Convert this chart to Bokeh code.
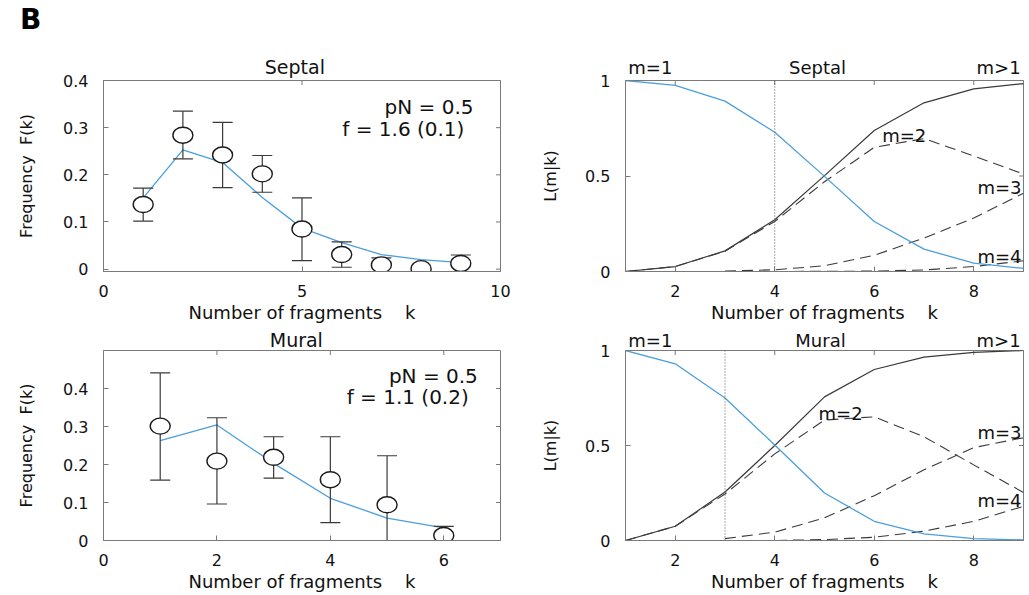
import math
from bokeh.plotting import figure
from bokeh.models import ColumnDataSource, Label, Span, FixedTicker, LinearAxis, Range1d, Div
from bokeh.layouts import column, row
from bokeh.embed import file_html
from bokeh.resources import INLINE

FONT = "DejaVu Sans"
AX = "#7a7a7a"
TXT = "#111111"
BLUE = "#4a9fdc"
DARK = "#3a3a3a"

# ---------------- data ----------------
# Left panels: observed fragment frequencies with error bars, and fitted model
sep_k = [1, 2, 3, 4, 5, 6, 7, 8, 9]
sep_obs = [0.137, 0.284, 0.242, 0.202, 0.085, 0.031, 0.009, 0.001, 0.012]
sep_hi = [0.172, 0.335, 0.311, 0.241, 0.151, 0.058, 0.024, 0.001, 0.030]
sep_lo = [0.102, 0.234, 0.173, 0.163, 0.018, 0.004, -0.006, 0.001, -0.006]
sep_fit = [0.151, 0.253, 0.226, 0.152, 0.087, 0.056, 0.031, 0.020, 0.014]

mur_k = [1, 2, 3, 4, 5, 6]
mur_obs = [0.301, 0.209, 0.219, 0.160, 0.094, 0.013]
mur_hi = [0.441, 0.323, 0.273, 0.273, 0.223, 0.037]
mur_lo = [0.159, 0.096, 0.164, 0.047, -0.035, -0.011]
mur_fit = [0.263, 0.304, 0.203, 0.111, 0.059, 0.033]

# Right panels: L(m|k)
lk = [1, 2, 3, 4, 5, 6, 7, 8, 9]
lk3 = [3, 4, 5, 6, 7, 8, 9]
sep_m1 = [1.0, 0.974, 0.892, 0.729, 0.498, 0.262, 0.117, 0.044, 0.016]
sep_mg1 = [0.0, 0.026, 0.108, 0.271, 0.502, 0.738, 0.883, 0.956, 0.984]
sep_m2 = [0.0, 0.026, 0.106, 0.262, 0.470, 0.650, 0.696, 0.605, 0.510]
sep_m3 = [0.002, 0.009, 0.030, 0.085, 0.175, 0.280, 0.410]
sep_m4 = [0.0, 0.0, 0.001, 0.002, 0.008, 0.026, 0.056]
sep_threshold = 4

mur_m1 = [1.0, 0.930, 0.750, 0.503, 0.250, 0.101, 0.035, 0.010, 0.003]
mur_mg1 = [0.0, 0.075, 0.255, 0.500, 0.756, 0.900, 0.965, 0.990, 1.0]
mur_m2 = [0.0, 0.075, 0.245, 0.456, 0.634, 0.651, 0.546, 0.398, 0.253]
mur_m3 = [0.010, 0.044, 0.119, 0.236, 0.372, 0.489, 0.541]
mur_m4 = [0.0, 0.0, 0.005, 0.017, 0.049, 0.101, 0.180]
mur_threshold = 3

# ticks
sep_xticks = [0, 5, 10]
sep_xlabels = ["0", "5", "10"]
sep_yticks = [0, 0.1, 0.2, 0.3, 0.4]
sep_ylabels = ["0", "0.1", "0.2", "0.3", "0.4"]
mur_xticks = [0, 2, 4, 6]
mur_xlabels = ["0", "2", "4", "6"]
mur_yticks = [0, 0.1, 0.2, 0.3, 0.4]
mur_ylabels = ["0", "0.1", "0.2", "0.3", "0.4"]
l_xticks = [2, 4, 6, 8]
l_xlabels = ["2", "4", "6", "8"]
l_yticks = [0, 0.5, 1]
l_ylabels = ["0", "0.5", "1"]

NB = "\u00a0"
XLABEL = "Number of fragments" + NB * 3 + " k"
YLABEL_F = "Frequency" + NB + " F(k)"
YLABEL_L = "L(m|k)"


def make_fig(xr, yr, w, h, bl, br, bt, bb, xticks, xlabels, yticks, ylabels, ylabel,
             ylab_standoff, top_pos, top_texts, top_size, top_standoff):
    p = figure(width=w, height=h,
               x_range=Range1d(*xr), y_range=Range1d(*yr),
               min_border_left=bl, min_border_right=br,
               min_border_top=bt, min_border_bottom=bb,
               output_backend="svg", toolbar_location=None, tools="")
    p.xgrid.visible = False
    p.ygrid.visible = False
    p.outline_line_color = AX
    p.outline_line_width = 1
    p.background_fill_color = "white"
    p.border_fill_color = "white"
    for ax, ticks, labels in ((p.xaxis[0], xticks, xlabels), (p.yaxis[0], yticks, ylabels)):
        ax.ticker = FixedTicker(ticks=ticks)
        ax.major_label_overrides = {t: l for t, l in zip(ticks, labels)}
        ax.major_tick_in = 5
        ax.major_tick_out = 0
        ax.minor_tick_line_color = None
        ax.axis_line_color = AX
        ax.major_tick_line_color = AX
        ax.major_label_text_font = FONT
        ax.major_label_text_font_size = "16px"
        ax.major_label_text_color = TXT
        ax.axis_label_text_font = FONT
        ax.axis_label_text_font_style = "normal"
        ax.axis_label_text_color = TXT
    p.xaxis[0].major_label_standoff = 13
    p.xaxis[0].axis_label = XLABEL
    p.xaxis[0].axis_label_text_font_size = "18px"
    p.xaxis[0].axis_label_standoff = 2
    p.yaxis[0].major_label_standoff = 15
    p.yaxis[0].axis_label = ylabel
    p.yaxis[0].axis_label_text_font_size = "16px"
    p.yaxis[0].axis_label_standoff = ylab_standoff
    # mirrored tick marks on the top and right edges of the box
    p.scatter(xticks, [yr[1]] * len(xticks), marker="dash", angle=math.pi / 2,
              size=9, line_color=AX, line_width=1)
    p.scatter([xr[1]] * len(yticks), yticks, marker="dash",
              size=9, line_color=AX, line_width=1)
    # panel title and curve names above the box
    top = LinearAxis(ticker=FixedTicker(ticks=top_pos),
                     major_label_overrides={t: s for t, s in zip(top_pos, top_texts)},
                     axis_line_color=None, major_tick_line_color=None,
                     minor_tick_line_color=None, major_tick_in=0, major_tick_out=0,
                     major_label_standoff=top_standoff, major_label_text_font=FONT,
                     major_label_text_font_size=top_size, major_label_text_color=TXT)
    p.add_layout(top, "above")
    return p


def lab(p, text, x, y, align="left", size="19px", xo=0, yo=0):
    p.add_layout(Label(x=x, y=y, x_offset=xo, y_offset=yo, text=text,
                       text_align=align, text_baseline="alphabetic",
                       text_font=FONT, text_font_size=size, text_color=TXT))


def freq_panel(p, k, obs, hi, lo, fit):
    src = ColumnDataSource(dict(k=k, obs=obs, hi=hi, lo=lo, fit=fit))
    p.line("k", "fit", source=src, line_color=BLUE, line_width=1.3)
    p.segment(x0="k", y0="lo", x1="k", y1="hi", source=src, line_color=DARK, line_width=1.2)
    p.scatter("k", "hi", source=src, marker="dash", size=20, line_color=DARK, line_width=1.2)
    p.scatter("k", "lo", source=src, marker="dash", size=20, line_color=DARK, line_width=1.2)
    p.ellipse("k", "obs", width=20, height=16, width_units="screen", height_units="screen",
              source=src, fill_color="white", line_color="#1a1a1a", line_width=1.4)


def l_panel(p, m1, mg1, m2, m3, m4, thr):
    p.line(lk, mg1, line_color=DARK, line_width=1.2)
    p.line(lk, m2, line_color=DARK, line_width=1.1, line_dash="11 6")
    p.line(lk3, m3, line_color=DARK, line_width=1.1, line_dash="11 6")
    p.line(lk3, m4, line_color=DARK, line_width=1.1, line_dash="11 6")
    p.line(lk, m1, line_color=BLUE, line_width=1.3)
    p.add_layout(Span(location=thr, dimension="height", line_color="#555555",
                      line_width=1, line_dash="1 2"))


# layout geometry (pixels)
WL, WR = 520, 508          # left / right figure widths
H0, H1, H2 = 40, 285, 269  # panel-letter strip / top row / bottom row heights

panel_letter = Div(text="B", width=WL + WR, height=H0, margin=(0, 0, 0, 0),
                   styles={"font-family": FONT, "font-size": "28px", "font-weight": "bold",
                           "color": "black", "padding-left": "20px",
                           "line-height": "40px", "box-sizing": "border-box"})

# ---------------- top-left: Septal frequencies ----------------
pA = make_fig((0, 10), (-0.005, 0.4), WL, H1, 103, 20, 40, 54,
              sep_xticks, sep_xlabels, sep_yticks, sep_ylabels, YLABEL_F, 24,
              [4.82], ["Septal"], "19px", 3)
freq_panel(pA, sep_k, sep_obs, sep_hi, sep_lo, sep_fit)
lab(pA, "pN = 0.5", 9.32, 0.343, align="right", size="20px")
lab(pA, "f = 1.6 (0.1)", 9.09, 0.297, align="right", size="20px")

# ---------------- top-right: Septal L(m|k) ----------------
pB = make_fig((1, 9), (0, 1), WR, H1, 105, 5, 40, 54,
              l_xticks, l_xlabels, l_yticks, l_ylabels, YLABEL_L, 22,
              [1.5, 4.86, 8.5], ["m=1", "Septal", "m>1"], "18px", 3)
l_panel(pB, sep_m1, sep_mg1, sep_m2, sep_m3, sep_m4, sep_threshold)
lab(pB, "m=2", 6.16, 0.71, size="18px")
lab(pB, "m=3", 9, 0.44, align="right", xo=-2, size="18px")
lab(pB, "m=4", 9, 0.077, align="right", xo=-2, size="18px")

# ---------------- bottom-left: Mural frequencies ----------------
pC = make_fig((0, 7), (0, 0.5), WL, H2, 103, 20, 25, 54,
              mur_xticks, mur_xlabels, mur_yticks, mur_ylabels, YLABEL_F, 24,
              [3.40], ["Mural"], "19px", 0)
freq_panel(pC, mur_k, mur_obs, mur_hi, mur_lo, mur_fit)
lab(pC, "pN = 0.5", 6.6, 0.434, align="right", size="20px")
lab(pC, "f = 1.1 (0.2)", 6.44, 0.377, align="right", size="20px")

# ---------------- bottom-right: Mural L(m|k) ----------------
pD = make_fig((1, 9), (0, 1), WR, H2, 105, 5, 25, 54,
              l_xticks, l_xlabels, l_yticks, l_ylabels, YLABEL_L, 22,
              [1.5, 4.92, 8.5], ["m=1", "Mural", "m>1"], "18px", 0)
l_panel(pD, mur_m1, mur_mg1, mur_m2, mur_m3, mur_m4, mur_threshold)
lab(pD, "m=2", 4.88, 0.667, size="18px")
lab(pD, "m=3", 9, 0.567, align="right", xo=-2, size="18px")
lab(pD, "m=4", 9, 0.211, align="right", xo=-2, size="18px")

layout = column(panel_letter, row(pA, pB, spacing=0), row(pC, pD, spacing=0), spacing=0)
open("out.html", "w").write(file_html(layout, INLINE))
